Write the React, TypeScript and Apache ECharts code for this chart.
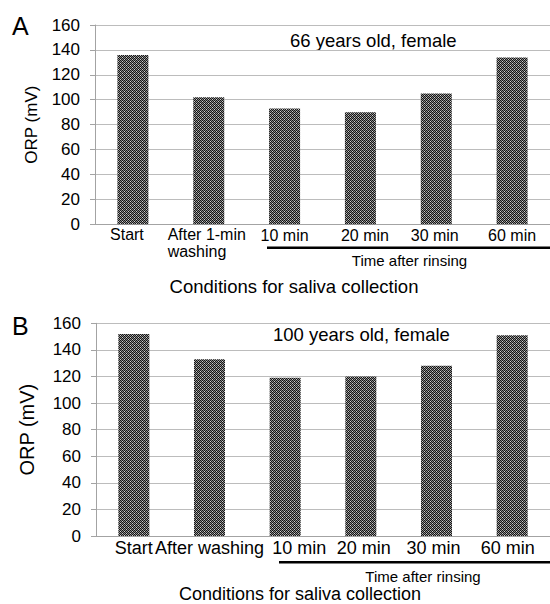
import React, { useEffect, useRef } from 'react';
import * as echarts from 'echarts';

const categoriesA = ['Start', 'After 1-min\nwashing', '10 min', '20 min', '30 min', '60 min'];
const categoriesB = ['Start', 'After washing', '10 min', '20 min', '30 min', '60 min'];
const orpA = [136, 102, 93, 90, 105, 134];
const orpB = [152, 133, 119, 120, 128, 151];
const yMin = 0;
const yMax = 160;
const yStep = 20;
const panelA = 'A';
const panelB = 'B';
const titleA = '66 years old, female';
const titleB = '100 years old, female';
const yName = 'ORP (mV)';
const xName = 'Conditions for saliva collection';
const groupName = 'Time after rinsing';

const FONT = '"Liberation Sans", Arial, sans-serif';

function makePattern(): HTMLCanvasElement {
  const c = document.createElement('canvas');
  c.width = 4;
  c.height = 4;
  const ctx = c.getContext('2d')!;
  const K = '#151515';
  const G = '#8a8a8a';
  const L = '#cfcfcf';
  const map = [
    [K, G, K, G],
    [G, K, L, K],
    [K, G, K, G],
    [L, K, G, K],
  ];
  for (let y = 0; y < 4; y++) {
    for (let x = 0; x < 4; x++) {
      ctx.fillStyle = map[y][x];
      ctx.fillRect(x, y, 1, 1);
    }
  }
  return c;
}

export default function App() {
  const ref = useRef<HTMLDivElement>(null);

  useEffect(() => {
    document.body.style.margin = '0';
    if (!ref.current) return;
    const chart = echarts.init(ref.current, undefined, { renderer: 'svg' });
    const canvas = makePattern();
    const pattern: any = { image: canvas, repeat: 'repeat', imageWidth: 4, imageHeight: 4 };

    const axisGray = '#a3a3a3';
    const gridGray = '#bcbcbc';

    const yAxisBase = (nameSize: number, nameGap: number) => ({
      type: 'value',
      min: yMin,
      max: yMax,
      interval: yStep,
      name: yName,
      nameLocation: 'middle',
      nameGap,
      nameTextStyle: { fontFamily: FONT, fontSize: nameSize, color: '#000' },
      axisLine: { show: true, lineStyle: { color: axisGray, width: 1 } },
      axisTick: { show: true, length: 5, lineStyle: { color: axisGray } },
      axisLabel: { fontFamily: FONT, fontSize: 17, color: '#000', margin: 15 },
      splitLine: { show: true, lineStyle: { color: gridGray, width: 1 } },
    });

    const richA: any = {
      a0: { padding: [0, 12, 0, 0] },
      a1: { align: 'left', padding: [0, 4, 0, 0] },
      a1w: { align: 'left', padding: [0, 0, 0, 0] },
      a2: { padding: [2.7, 0, 0, 0] },
      a3: { padding: [2.7, 0, 0, 9] },
      a4: { padding: [2.7, 3, 0, 0] },
      a5: { padding: [2.7, 0, 0, 0] },
    };
    Object.keys(richA).forEach((k) => {
      richA[k] = { fontFamily: FONT, fontSize: 16, color: '#000', lineHeight: 17.7, ...richA[k] };
    });
    const richB: any = {
      b0: { padding: [0, 0, 0, 0] },
      b1: { padding: [0, 0, 0, 0] },
      b2: { padding: [0, 0, 0, 28] },
      b3: { padding: [0, 0, 0, 6] },
      b4: { padding: [0, 6, 0, 0] },
      b5: { padding: [0, 9, 0, 0] },
    };
    Object.keys(richB).forEach((k) => {
      richB[k] = { fontFamily: FONT, fontSize: 18, color: '#000', lineHeight: 18, ...richB[k] };
    });

    const option: any = {
      animation: false,
      grid: [
        { left: 95, right: -9, top: 25, height: 199.3, containLabel: false },
        { left: 96, right: -11, top: 323.3, height: 212.7, containLabel: false },
      ],
      xAxis: [
        {
          type: 'category',
          gridIndex: 0,
          data: categoriesA,
          axisLine: { show: true, lineStyle: { color: axisGray } },
          axisTick: { show: false },
          axisLabel: {
            interval: 0,
            margin: 1,
            formatter: (value: string, index: number) => {
              if (index === 1) {
                const parts = value.split('\n');
                return `{a1|${parts[0]}}\n{a1w|${parts[1]}}`;
              }
              return `{a${index}|${value}}`;
            },
            rich: richA,
          },
        },
        {
          type: 'category',
          gridIndex: 1,
          data: categoriesB,
          axisLine: { show: true, lineStyle: { color: axisGray } },
          axisTick: { show: false },
          axisLabel: {
            interval: 0,
            margin: 3,
            formatter: (value: string, index: number) => `{b${index}|${value}}`,
            rich: richB,
          },
        },
      ],
      yAxis: [
        { ...yAxisBase(17, 55), gridIndex: 0 },
        { ...yAxisBase(20, 59), gridIndex: 1 },
      ],
      series: [
        {
          type: 'bar',
          xAxisIndex: 0,
          yAxisIndex: 0,
          data: orpA,
          barWidth: 31,
          itemStyle: { color: pattern },
        },
        {
          type: 'bar',
          xAxisIndex: 1,
          yAxisIndex: 1,
          data: orpB,
          barWidth: 31,
          itemStyle: { color: pattern },
        },
      ],
      graphic: [
        { type: 'text', left: 12, top: 13, style: { text: panelA, fontFamily: FONT, fontSize: 25, fill: '#000' } },
        { type: 'text', left: 12, top: 313, style: { text: panelB, fontFamily: FONT, fontSize: 25, fill: '#000' } },
        { type: 'text', x: 290, y: 40, style: { text: titleA, fontFamily: FONT, fontSize: 18.5, fill: '#000', align: 'left', verticalAlign: 'middle' } },
        { type: 'text', x: 273, y: 334.5, style: { text: titleB, fontFamily: FONT, fontSize: 18.5, fill: '#000', align: 'left', verticalAlign: 'middle' } },
        { type: 'line', shape: { x1: 267, y1: 247.7, x2: 550, y2: 247.7 }, style: { stroke: '#000', lineWidth: 2.5 } },
        { type: 'line', shape: { x1: 279, y1: 562.3, x2: 550, y2: 562.3 }, style: { stroke: '#000', lineWidth: 2.5 } },
        { type: 'text', x: 409.5, y: 260.7, style: { text: groupName, fontFamily: FONT, fontSize: 15, fill: '#000', align: 'center', verticalAlign: 'middle' } },
        { type: 'text', x: 423, y: 576, style: { text: groupName, fontFamily: FONT, fontSize: 15, fill: '#000', align: 'center', verticalAlign: 'middle' } },
        { type: 'text', x: 294, y: 286, style: { text: xName, fontFamily: FONT, fontSize: 18.5, fill: '#000', align: 'center', verticalAlign: 'middle' } },
        { type: 'text', x: 300, y: 594.4, style: { text: xName, fontFamily: FONT, fontSize: 18, fill: '#000', align: 'center', verticalAlign: 'middle' } },
      ],
    };

    chart.setOption(option);
    return () => {
      chart.dispose();
    };
  }, []);

  return <div ref={ref} style={{ width: 550, height: 604 }} />;
}
